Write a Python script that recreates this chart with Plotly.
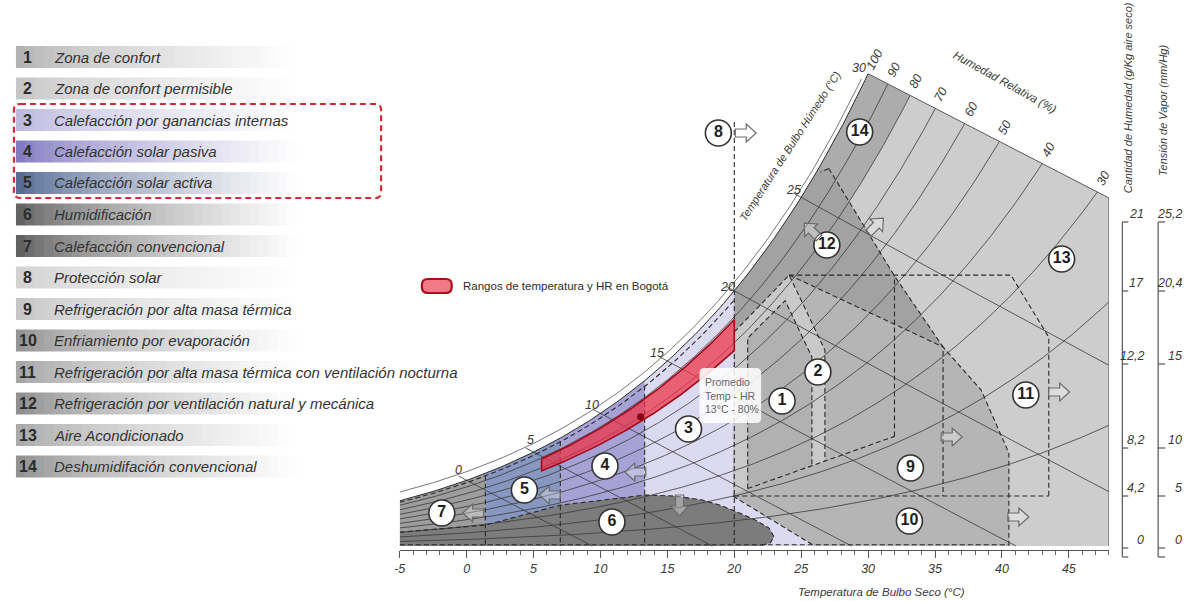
import numpy as np
import plotly.graph_objects as go

# ======================= DATA =======================
legend_numbers = [str(i) for i in range(1, 15)]
legend_labels = [
    "Zona de confort", "Zona de confort permisible", "Calefacción por ganancias internas",
    "Calefacción solar pasiva", "Calefacción solar activa", "Humidificación",
    "Calefacción convencional", "Protección solar", "Refrigeración por alta masa térmica",
    "Enfriamiento por evaporación", "Refrigeración por alta masa térmica con ventilación nocturna",
    "Refrigeración por ventilación natural y mecánica", "Aire Acondicionado",
    "Deshumidifación convencional"]
legend_colors = ['#aeaeae', '#c2c2c2', '#b9b5de', '#7a72bd', '#4a628e', '#585858', '#565656',
                 '#cfcfcf', '#c2c2c2', '#8c8c8c', '#a0a0a0', '#888888', '#a4a4a4', '#8a8a8a']

x_tick_values = [-5, 0, 5, 10, 15, 20, 25, 30, 35, 40, 45]
rh_curve_levels = [10, 20, 30, 40, 50, 60, 70, 80, 90]
rh_top_labels = [100, 90, 80, 70, 60, 50, 40, 30]
wet_bulb_levels = [0, 5, 10, 15, 20, 25]
wet_bulb_labels = [0, 5, 10, 15, 20, 25, 30]
moisture_tick_labels = ['21', '17', '12,2', '8,2', '4,2', '0']
vapor_tick_labels = ['25,2', '20,4', '15', '10', '5', '0']

# chart frame (T in °C, W in g/kg)
top_edge_end_W = 20.0
heating_cuts_T = [1.4, 7.0, 13.3, 20.0]
zone6_top_T = [-5.0, 1.4, 7.0, 13.4, 15.6, 17.6, 18.9, 19.85, 21.56, 22.6, 22.97, 22.68, 22.08]
zone6_top_W = [0.8, 1.2, 2.35, 2.93, 2.87, 2.64, 2.36, 2.07, 1.5, 1.03, 0.52, 0.17, 0.05]
zone10_edge_T = [19.9, 26.0]
zone10_edge_W = [2.87, 0.0]
base_line_W = 2.87
apex_T, apex_W = 27.06, 21.7
line_a_T = [27.06, 31.97, 35.6]
line_a_W = [21.7, 15.52, 11.44]
line_b_T = [24.1, 35.6, 38.44, 40.15, 40.52, 40.52]
line_b_W = [15.57, 11.44, 8.97, 5.92, 5.34, 0.0]
zone11_T = [24.1, 40.67, 43.5, 43.5]
zone11_W = [15.57, 15.57, 12.0, 2.87]
box_bottom_T = [21.0, 31.97]
box_bottom_W = [3.3, 6.3]
zone1_T = [21.0, 21.0, 23.8, 25.8, 25.8]
zone1_W = [None, 11.95, 14.1, 10.86, None]
zone2_T = [20.0, 24.1, 26.77, 26.77]
zone2_W = [12.3, 15.57, 11.26, None]
zone12_left_T = 26.3
zone14_rh = 80
bogota_T = [5.6, 20.0]
bogota_RH = [77, 89]
bogota_mean_T, bogota_mean_RH = 13.0, 80

# ======================= GEOMETRY HELPERS =======================
W_FIG, H_FIG = 1187, 601
X0PX, XS = 463.0, 13.45
Y0PX, YS = 546.0, 17.4
PL, PR, PT, PB = 395.75, 1108.6, 40.0, 550.0
T_MIN, T_MAX = -5.0, 48.0
W_LO = (Y0PX - PB) / YS
W_HI = (Y0PX - PT) / YS
FONT = "Liberation Sans, Arial, sans-serif"


def T_of(px):
    return (px - X0PX) / XS


def w_of(py):
    return (Y0PX - py) / YS


def xp(px):
    return px / W_FIG


def yp(py):
    return 1 - py / H_FIG


P_ATM = 101.325


def psat(T):
    return 0.61094 * np.exp(17.625 * T / (T + 243.04))


def w_rh(T, rh):
    ps = psat(np.asarray(T, dtype=float)) * rh / 100.0
    return 622.0 * ps / (P_ATM - ps)


def w_wb(T, twb):
    ws = w_rh(twb, 100) / 1000.0
    T = np.asarray(T, dtype=float)
    return 1000 * ((2501 - 2.326 * twb) * ws - 1.006 * (T - twb)) / (2501 + 1.86 * T - 4.186 * twb)


W30 = float(w_rh(30, 100))


def diag(T):
    return W30 + (top_edge_end_W - W30) * (np.asarray(T, dtype=float) - 30) / (T_MAX - 30)


def bisect(f, a, b, n=60):
    fa = f(a)
    for _ in range(n):
        m = 0.5 * (a + b)
        fm = f(m)
        if (fm > 0) == (fa > 0):
            a, fa = m, fm
        else:
            b = m
    return 0.5 * (a + b)


def bottom_w(T):
    return box_bottom_W[0] + (T - box_bottom_T[0]) * (box_bottom_W[1] - box_bottom_W[0]) / (box_bottom_T[1] - box_bottom_T[0])


def sat_seg(t0, t1, n=80):
    T = np.linspace(t0, t1, n)
    return list(T), list(w_rh(T, 100))


fig = go.Figure()


def poly(Ts, Ws, color):
    fig.add_trace(go.Scatter(x=list(Ts) + [Ts[0]], y=list(Ws) + [Ws[0]], mode='lines', fill='toself',
                             fillcolor=color, line=dict(width=0), hoverinfo='skip', showlegend=False))


def line(Ts, Ws, color='#3a3a3a', width=0.8, dash=None):
    fig.add_trace(go.Scatter(x=list(Ts), y=list(Ws), mode='lines',
                             line=dict(color=color, width=width, dash=dash),
                             hoverinfo='skip', showlegend=False))


DASH = '5px,3px'

# ======================= FILLS =======================
# zone 13 (whole chart)
sT, sW = sat_seg(-5, 30)
poly([-5, 48, 48] + sT[::-1], [0, 0, top_edge_end_W] + sW[::-1], '#cdcdcd')

# zones 9 / 10 region
sT, sW = sat_seg(20, zone12_left_T, 40)
poly([zone10_edge_T[1], zone10_edge_T[0]] + sT + [apex_T] + line_a_T[1:] + line_b_T[2:],
     [zone10_edge_W[1], zone10_edge_W[0]] + sW + [apex_W] + line_a_W[1:] + line_b_W[2:], '#b5b5b5')

# zone 12
sT, sW = sat_seg(20, zone12_left_T, 40)
poly(sT + [apex_T] + line_a_T[1:] + [line_b_T[0], zone2_T[0]],
     sW + [apex_W] + line_a_W[1:] + [line_b_W[0], zone2_W[0]], '#a2a2a2')


def lineA_w(T):
    return line_a_W[0] + (T - line_a_T[0]) * (line_a_W[1] - line_a_W[0]) / (line_a_T[1] - line_a_T[0])


# zone 14
Tb = bisect(lambda t: float(w_rh(t, zone14_rh) - diag(t)), 30.0, 40.0)
Tc = bisect(lambda t: float(w_rh(t, zone14_rh) - lineA_w(t)), 25.0, Tb)
sT, sW = sat_seg(zone12_left_T, 30, 40)
rT = np.linspace(Tb, Tc, 40)
poly(sT + [Tb] + list(rT) + [apex_T], sW + [float(diag(Tb))] + list(w_rh(rT, zone14_rh)) + [apex_W], '#acacac')

# zones 2 and 1
z2W = [zone2_W[0], zone2_W[1], zone2_W[2], bottom_w(zone2_T[3])]
poly(zone2_T + [box_bottom_T[0], zone2_T[0]], z2W + [box_bottom_W[0], 3.0], '#c9c9c9')
z1W = [box_bottom_W[0]] + zone1_W[1:4] + [bottom_w(zone1_T[4])]
poly(zone1_T, z1W, '#b1b1b1')

# heating zones 7, 5, 4, 3
cuts = [-5.0] + heating_cuts_T
heat_colors = ['#9d9d9d', '#8797c0', '#a7a2d6', '#dcdaf1']
for i in range(4):
    t0, t1 = cuts[i], cuts[i + 1]
    sT, sW = sat_seg(t0, t1, 40)
    if i < 3:
        poly([t0] + sT + [t1], [0] + sW + [0], heat_colors[i])
    else:
        poly([t0] + sT + [zone10_edge_T[0], zone10_edge_T[1]], [0] + sW + [zone10_edge_W[0], zone10_edge_W[1]],
             heat_colors[i])

# zone 6
poly(zone6_top_T + [zone6_top_T[-1], -5.0], zone6_top_W + [0.0, 0.0], '#7c7c7c')

# ======================= PSYCHROMETRIC LINES =======================
LC = '#3a3a3a'
for rh in rh_curve_levels:
    T = np.linspace(-5, 48, 400)
    w = w_rh(T, rh)
    if float(w_rh(48, rh)) > float(diag(48)):
        tx = bisect(lambda t: float(w_rh(t, rh) - diag(t)), 30.0, 48.0)
        T = np.linspace(-5, tx, 400)
        w = w_rh(T, rh)
    line(T, w, LC, 0.8)

for twb in wet_bulb_levels:
    t0 = twb - 0.6
    t_zero = bisect(lambda t: float(w_wb(t, twb)), twb, 120.0)
    t1 = min(t_zero, T_MAX)
    T = np.linspace(t0, t1, 60)
    line(T, w_wb(T, twb), LC, 0.8)

sT, sW = sat_seg(-5, 30, 150)
line(sT, sW, '#2f2f2f', 1.0)
oT = np.linspace(-5, 29.5, 150)
line(oT, w_rh(oT, 100) + 0.5, '#555555', 0.8)
line([30, 48, 48], [W30, top_edge_end_W, 0], '#5a5a5a', 1.0)

# ======================= DASHED ZONE BOUNDARIES =======================
DC = '#2a2a2a'
line([20, 20], [w_of(122), 0], DC, 1.1, DASH)
for t in heating_cuts_T[:3]:
    line([t, t], [float(w_rh(t, 100)) * 0.97, 0], DC, 1.1, DASH)
dT = np.linspace(-5, 20, 80)
line(dT, w_rh(dT, 100) * 0.965, DC, 1.1, DASH)
line(zone6_top_T + [zone6_top_T[-1]], zone6_top_W + [0.0], DC, 1.1, DASH)
line([-5, 40.52], [0.07, 0.07], DC, 1.0, DASH)
line(zone10_edge_T, zone10_edge_W, DC, 1.1, DASH)
line([20, 43.5], [base_line_W, base_line_W], DC, 1.1, DASH)
line(zone11_T, zone11_W, DC, 1.1, DASH)
line(line_a_T + [line_a_T[-1]], line_a_W + [base_line_W], DC, 1.1, DASH)
line(line_b_T, line_b_W, DC, 1.1, DASH)
line([box_bottom_T[1], box_bottom_T[1]], [box_bottom_W[1], line_a_W[1]], DC, 1.1, DASH)
line(box_bottom_T, box_bottom_W, DC, 1.1, DASH)
line([apex_T, zone12_left_T + 0.15], [apex_W, float(w_rh(zone12_left_T, 100)) - 0.2], DC, 1.1, DASH)
line(zone1_T, z1W, DC, 1.1, DASH)
line(zone2_T, z2W, DC, 1.1, DASH)

# ======================= BOGOTÁ BAND =======================
bT = np.linspace(bogota_T[0], bogota_T[1], 80)
upper = w_rh(bT, bogota_RH[1])
lower = w_rh(bT, bogota_RH[0])
fig.add_trace(go.Scatter(x=list(bT) + list(bT[::-1]) + [bT[0]],
                         y=list(upper) + list(lower[::-1]) + [upper[0]],
                         mode='lines', fill='toself', fillcolor='rgba(238,48,68,0.72)',
                         line=dict(color='#a00c1c', width=1.6), hoverinfo='skip', showlegend=False))
fig.add_trace(go.Scatter(x=[bogota_mean_T], y=[float(w_rh(bogota_mean_T, bogota_mean_RH))], mode='markers',
                         marker=dict(size=7, color='#8a0010'), hoverinfo='skip', showlegend=False))

# ======================= CIRCLED ZONE NUMBERS =======================
circle_px = {'1': (780, 401), '2': (816, 372), '3': (686, 429), '4': (602, 466), '5': (521, 490),
             '6': (609, 522), '7': (438, 513), '8': (716, 133), '9': (909, 468), '10': (908, 521),
             '11': (1025, 395), '12': (825, 245), '13': (1061, 259), '14': (858, 132)}
cx = [T_of(circle_px[n][0]) for n in legend_numbers]
cy = [w_of(circle_px[n][1]) for n in legend_numbers]
fig.add_trace(go.Scatter(x=cx, y=cy, mode='markers+text', text=legend_numbers,
                         textposition='middle center',
                         textfont=dict(family=FONT, size=16, color='#1e1e1e', weight='bold'),
                         marker=dict(size=26, color='white', line=dict(color='#333333', width=1.6)),
                         hoverinfo='skip', showlegend=False, cliponaxis=False))

# ======================= SHAPES =======================
shapes = []


def arrow_path(angle):
    pts = [(-10, -4), (1, -4), (1, -9), (11, 0), (1, 9), (1, 4), (-10, 4)]
    a = np.radians(angle)
    ca, sa = np.cos(a), np.sin(a)
    rp = [(x * ca - y * sa, x * sa + y * ca) for x, y in pts]
    return "M " + " L ".join(f"{x:.2f},{y:.2f}" for x, y in rp) + " Z"


arrows = [(743, 133, 0), (810, 231, 135), (874, 226, 45), (1058, 392, 0), (950, 437, 0),
          (1017, 517, 0), (633, 472, 180), (547, 495, 180), (470, 513, 180), (677, 505, 270)]
for ax_, ay_, ang in arrows:
    shapes.append(dict(type='path', xref='x', yref='y', xsizemode='pixel', ysizemode='pixel',
                       xanchor=T_of(ax_), yanchor=w_of(ay_), path=arrow_path(ang),
                       fillcolor='rgba(255,255,255,0.3)', line=dict(color='#6a6a6a', width=1.2),
                       layer='above'))


def rrect(x0, y0, x1, y1, r):
    return (f"M {xp(x0 + r)},{yp(y0)} L {xp(x1 - r)},{yp(y0)} Q {xp(x1)},{yp(y0)} {xp(x1)},{yp(y0 + r)} "
            f"L {xp(x1)},{yp(y1 - r)} Q {xp(x1)},{yp(y1)} {xp(x1 - r)},{yp(y1)} "
            f"L {xp(x0 + r)},{yp(y1)} Q {xp(x0)},{yp(y1)} {xp(x0)},{yp(y1 - r)} "
            f"L {xp(x0)},{yp(y0 + r)} Q {xp(x0)},{yp(y0)} {xp(x0 + r)},{yp(y0)} Z")


def hex2rgb(h):
    h = h.lstrip('#')
    return [int(h[i:i + 2], 16) for i in (0, 2, 4)]


row_y = [57 + 31.5 * i for i in range(14)]
NS = 30
bx0, bx1 = 10, 292
for i, c in enumerate(legend_colors):
    rgb = hex2rgb(c)
    for k in range(NS):
        x0 = bx0 + (bx1 - bx0) * k / NS
        x1 = bx0 + (bx1 - bx0) * (k + 1) / NS + 0.6
        f = ((k + 0.5) / NS) ** 0.65
        col = [int(v + (255 - v) * f) for v in rgb]
        shapes.append(dict(type='rect', xref='paper', yref='paper', x0=xp(x0), x1=xp(x1),
                           y0=yp(row_y[i] + 11), y1=yp(row_y[i] - 11), line=dict(width=0),
                           fillcolor=f'rgb({col[0]},{col[1]},{col[2]})', layer='below'))

shapes.append(dict(type='path', xref='paper', yref='paper', path=rrect(8, 104, 377, 198, 6),
                   line=dict(color='#d42a35', width=2.2, dash='6px,4px'), fillcolor='rgba(0,0,0,0)'))
shapes.append(dict(type='path', xref='paper', yref='paper', path=rrect(418, 279, 448, 293, 6),
                   line=dict(color='#a8101f', width=2.2), fillcolor='#f07a86'))
shapes.append(dict(type='path', xref='paper', yref='paper', path=rrect(697, 368, 759, 423, 5),
                   line=dict(width=0), fillcolor='rgba(255,255,255,0.85)', layer='above'))

tick_py = [222, 291, 364, 448, 496, 548]
for sx, tx in [(1122, 1128), (1158, 1165)]:
    shapes.append(dict(type='line', xref='paper', yref='paper', x0=xp(sx), x1=xp(sx), y0=yp(222), y1=yp(557),
                       line=dict(color='#555555', width=1.2)))
    for ty in tick_py + [557]:
        shapes.append(dict(type='line', xref='paper', yref='paper', x0=xp(sx), x1=xp(tx), y0=yp(ty), y1=yp(ty),
                           line=dict(color='#555555', width=1.2)))

# ======================= ANNOTATIONS =======================
ann = []
for i in range(14):
    ann.append(dict(xref='paper', yref='paper', x=xp(22), y=yp(row_y[i]), text=f"<b>{legend_numbers[i]}</b>",
                    showarrow=False, xanchor='center', yanchor='middle',
                    font=dict(family=FONT, size=16, color='#2b2b2b')))
    ann.append(dict(xref='paper', yref='paper', x=xp(46), y=yp(row_y[i]), text=legend_labels[i],
                    showarrow=False, xanchor='left', yanchor='middle',
                    font=dict(family=FONT, size=15, color='#333333', style='italic')))

ann.append(dict(xref='paper', yref='paper', x=xp(457), y=yp(286), text="Rangos de temperatura y HR en Bogotá",
                showarrow=False, xanchor='left', yanchor='middle', font=dict(family=FONT, size=11.5, color='#2b2b2b')))
ann.append(dict(xref='paper', yref='paper', x=xp(701), y=yp(395),
                text=f"Promedio<br>Temp - HR<br>{bogota_mean_T:.0f}°C - {bogota_mean_RH}%",
                showarrow=False, xanchor='left', yanchor='middle', align='left',
                font=dict(family=FONT, size=10.5, color='#666666')))

wb_offsets = {0: (-8, 10), 5: (-3, 12), 10: (-8, 8), 15: (-10, 8), 20: (-7, 4), 25: (-8, 7), 30: (-9, 6)}
for t in wet_bulb_labels:
    dx, dy = wb_offsets[t]
    ann.append(dict(x=t, y=float(w_rh(t, 100)), text=str(t), showarrow=False, xshift=dx, yshift=dy,
                    xanchor='center', yanchor='middle',
                    font=dict(family=FONT, size=12.5, color='#3a3a3a', style='italic')))

for rh in rh_top_labels:
    if rh == 100:
        tx = 30.0
    else:
        tx = bisect(lambda t: float(w_rh(t, rh) - diag(t)), 30.0, 48.0)
    ann.append(dict(x=tx, y=float(diag(tx)), text=str(rh), showarrow=False, xshift=6, yshift=14,
                    textangle=-62, xanchor='center', yanchor='middle',
                    font=dict(family=FONT, size=12.5, color='#3a3a3a', style='italic')))

titles = [
    (1004, 82, "Humedad Relativa (%)", 29, 11.5),
    (788, 146, "Temperatura de Bulbo Húmedo (°C)", -57, 11),
    (880, 592, "Temperatura de Bulbo Seco (°C)", 0, 11.5),
    (1128, 98, "Cantidad de Humedad (g/Kg aire seco)", -90, 11),
    (1163, 110, "Tensión de Vapor (mm/Hg)", -90, 11),
]
for px_, py_, txt, ang, sz in titles:
    ann.append(dict(xref='paper', yref='paper', x=xp(px_), y=yp(py_), text=txt, showarrow=False,
                    textangle=ang, xanchor='center', yanchor='middle',
                    font=dict(family=FONT, size=sz, color='#3a3a3a', style='italic')))

for lab, ty in zip(moisture_tick_labels, tick_py):
    ann.append(dict(xref='paper', yref='paper', x=xp(1146), y=yp(ty - 8), text=lab, showarrow=False,
                    xanchor='right', yanchor='middle',
                    font=dict(family=FONT, size=12.5, color='#3a3a3a', style='italic')))
for lab, ty in zip(vapor_tick_labels, tick_py):
    ann.append(dict(xref='paper', yref='paper', x=xp(1184), y=yp(ty - 8), text=lab, showarrow=False,
                    xanchor='right', yanchor='middle',
                    font=dict(family=FONT, size=12.5, color='#3a3a3a', style='italic')))

# ======================= LAYOUT =======================
fig.update_layout(
    width=W_FIG, height=H_FIG, margin=dict(l=0, r=0, t=0, b=0),
    paper_bgcolor='white', plot_bgcolor='rgba(0,0,0,0)', showlegend=False,
    shapes=shapes, annotations=ann,
    xaxis=dict(domain=[xp(PL), xp(PR)], range=[T_MIN, T_MAX], showgrid=False, zeroline=False,
               showline=True, linecolor='#555555', linewidth=1.2, ticks='outside', ticklen=7,
               tickcolor='#555555', tickwidth=1.1, tickvals=x_tick_values,
               ticktext=[str(v) for v in x_tick_values],
               tickfont=dict(family=FONT, size=12.5, color='#3a3a3a', style='italic'),
               minor=dict(dtick=1, tick0=0, ticks='outside', ticklen=4, tickcolor='#666666', showgrid=False),
               fixedrange=True),
    yaxis=dict(domain=[yp(PB), yp(PT)], range=[W_LO, W_HI], visible=False, fixedrange=True),
)

fig.write_html("out.html", config={'displayModeBar': False},
               post_script="document.body.style.margin='0px';")
